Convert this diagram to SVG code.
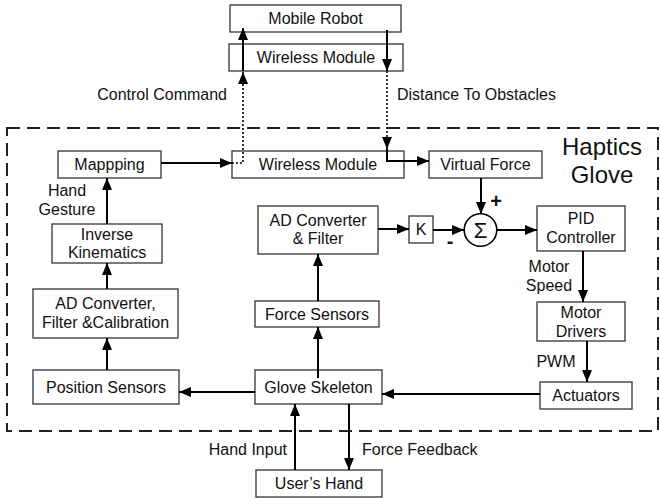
<svg xmlns="http://www.w3.org/2000/svg" width="660" height="499" viewBox="0 0 660 499">
<style>
.box{fill:#fff;stroke:#333;stroke-width:1.3}
.t{font-family:"Liberation Sans",Arial,sans-serif;font-size:16px;fill:#111;text-anchor:middle}
.l{font-family:"Liberation Sans",Arial,sans-serif;font-size:16px;fill:#111}
.c{fill:none;stroke:#000;stroke-width:2}
.d{fill:none;stroke:#000;stroke-width:1.6;stroke-dasharray:2,2}
</style>
<defs>
<marker id="ah" markerUnits="userSpaceOnUse" markerWidth="12" markerHeight="10" refX="12" refY="5" orient="auto">
<path d="M0,0 L12,5 L0,10 z" fill="#000"/>
</marker>
</defs>
<rect x="7" y="128" width="651" height="303" fill="none" stroke="#222" stroke-width="2" stroke-dasharray="13,7"/>
<text x="602" y="155" class="l" style="font-size:24px;text-anchor:middle">Haptics</text>
<text x="602" y="183" class="l" style="font-size:24px;text-anchor:middle">Glove</text>
<g id="mobile-robot"><rect class="box" x="230" y="5" width="171" height="27"/><text x="315.5" y="24" class="t">Mobile Robot</text></g>
<g id="wireless-top"><rect class="box" x="229" y="44" width="174" height="27"/><text x="316" y="63" class="t">Wireless Module</text></g>
<g id="mapping"><rect class="box" x="58" y="151" width="103" height="27"/><text x="109.5" y="170" class="t">Mappping</text></g>
<g id="wireless-inner"><rect class="box" x="232" y="151" width="172" height="27"/><text x="318" y="170" class="t">Wireless Module</text></g>
<g id="virtual-force"><rect class="box" x="429" y="151" width="113" height="27"/><text x="485.5" y="170" class="t">Virtual Force</text></g>
<g id="inverse-kinematics"><rect class="box" x="52" y="224" width="110" height="39"/><text x="107" y="240" class="t">Inverse</text><text x="107" y="258" class="t">Kinematics</text></g>
<g id="ad-converter-left"><rect class="box" x="33" y="289" width="145" height="49"/><text x="105.5" y="309" class="t">AD Converter,</text><text x="105.5" y="328" class="t">Filter &amp;Calibration</text></g>
<g id="position-sensors"><rect class="box" x="33" y="370" width="146" height="34"/><text x="106" y="393" class="t">Position Sensors</text></g>
<g id="ad-converter-mid"><rect class="box" x="258" y="206" width="120" height="48"/><text x="318" y="226" class="t">AD Converter</text><text x="318" y="244" class="t">&amp; Filter</text></g>
<g id="force-sensors"><rect class="box" x="255" y="301" width="124" height="26"/><text x="317" y="319.5" class="t">Force Sensors</text></g>
<g id="glove-skeleton"><rect class="box" x="255" y="370" width="127" height="34"/><text x="318.5" y="393" class="t">Glove Skeleton</text></g>
<g id="users-hand"><rect class="box" x="256" y="470" width="126" height="27"/><text x="319" y="489" class="t">User’s Hand</text></g>
<g id="k"><rect class="box" x="409" y="216" width="24" height="27"/><text x="421" y="235" class="t">K</text></g>
<g id="sum"><circle cx="480.5" cy="230" r="16.3" fill="#fff" stroke="#000" stroke-width="1.6"/><text x="480.5" y="238" class="t" style="font-size:22px">Σ</text></g>
<g id="pid"><rect class="box" x="537" y="206" width="88" height="45"/><text x="581" y="223.5" class="t">PID</text><text x="581" y="243" class="t">Controller</text></g>
<g id="motor-drivers"><rect class="box" x="537" y="302" width="88" height="39"/><text x="581" y="318" class="t">Motor</text><text x="581" y="336.5" class="t">Drivers</text></g>
<g id="actuators"><rect class="box" x="540" y="382" width="92" height="27"/><text x="586" y="401" class="t">Actuators</text></g>
<g id="connectors">
<path class="c" d="M243,71 L243,28" marker-end="url(#ah)"/>
<path class="d" d="M232,163 L243,163 L243,72" marker-end="url(#ah)"/>
<path class="c" d="M387,30 L387,71" marker-end="url(#ah)"/>
<path class="d" d="M387,71 L387,149" marker-end="url(#ah)"/>
<path class="c" d="M387,149 L387,161 L429,161" marker-end="url(#ah)"/>
<path class="c" d="M161,163 L232,163" marker-end="url(#ah)"/>
<path class="c" d="M107,224 L107,178" marker-end="url(#ah)"/>
<path class="c" d="M107,289 L107,263" marker-end="url(#ah)"/>
<path class="c" d="M107,370 L107,338" marker-end="url(#ah)"/>
<path class="c" d="M255,392 L179,392" marker-end="url(#ah)"/>
<path class="c" d="M540,394 L382,394" marker-end="url(#ah)"/>
<path class="c" d="M318,378 L318,327" marker-end="url(#ah)"/>
<path class="c" d="M318,301 L318,254" marker-end="url(#ah)"/>
<path class="c" d="M378,229 L409,229" marker-end="url(#ah)"/>
<path class="c" d="M433,230 L464,230" marker-end="url(#ah)"/>
<path class="c" d="M481,178 L481,214" marker-end="url(#ah)"/>
<path class="c" d="M497,230 L537,230" marker-end="url(#ah)"/>
<path class="c" d="M583,251 L583,302" marker-end="url(#ah)"/>
<path class="c" d="M587,341 L587,382" marker-end="url(#ah)"/>
<path class="c" d="M295,470 L295,404" marker-end="url(#ah)"/>
<path class="c" d="M349,404 L349,470" marker-end="url(#ah)"/>
<text x="227" y="100" class="l" text-anchor="end">Control Command</text>
<text x="397" y="100" class="l">Distance To Obstacles</text>
<text x="67" y="196" class="t">Hand</text>
<text x="67" y="215" class="t">Gesture</text>
<text x="549" y="272" class="t">Motor</text>
<text x="549" y="291" class="t">Speed</text>
<text x="556" y="367" class="t">PWM</text>
<text x="287" y="455" class="l" text-anchor="end">Hand Input</text>
<text x="362" y="455" class="l">Force Feedback</text>
<text x="496" y="208" class="t" style="font-size:20px;font-weight:bold">+</text>
<text x="450" y="248" class="t" style="font-size:20px;font-weight:bold">-</text>
</g>
</svg>
